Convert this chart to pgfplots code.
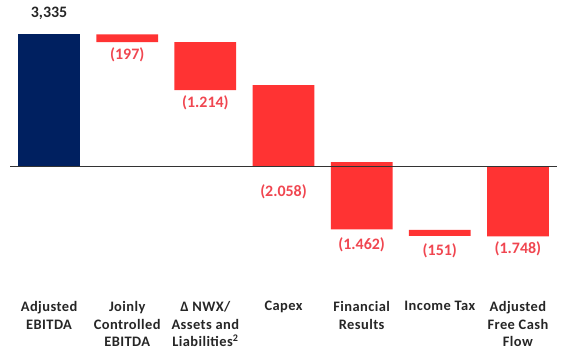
\documentclass[border=0pt]{standalone}
\usepackage{fontspec}
\setmainfont{Carlito}
\usepackage{pgfplots}
\pgfplotsset{compat=1.18}
\definecolor{navy}{HTML}{002060}
\definecolor{barred}{HTML}{FF3333}
\definecolor{labred}{RGB}{240,70,80}
\begin{document}
\begin{tikzpicture}
\pgfplotsset{common/.style={scale only axis, width=547bp, height=351bp,
  xmin=-0.5, xmax=6.5, ymin=-4624, ymax=4197, clip=false,
  axis line style={draw=none}, tick style={draw=none}, ytick=\empty}}
\begin{axis}[common, name=ax, ybar stacked, stack negative=on previous, bar width=0.79,
  xtick={0,...,6},
  xticklabels={{Adjusted\\EBITDA},{Joinly\\Controlled\\EBITDA},{Δ NWX/\\Assets and\\Liabilities\textsuperscript{2}},{Capex},{Financial\\Results},{Income Tax},{Adjusted\\Free Cash\\Flow}},
  xticklabel style={align=center, anchor=north, yshift=53bp,
    font=\bfseries\fontsize{14.5}{17.5}\selectfont\addfontfeatures{LetterSpace=3}, text=black!85}]
\addplot[draw=none, fill=none] coordinates {(0,0) (1,3138) (2,1930) (3,0) (4,125) (5,-1583) (6,0)};
\addplot[draw=none, fill=navy] coordinates {(0,3335) (1,0) (2,0) (3,0) (4,0) (5,0) (6,0)};
\addplot[draw=none, fill=barred] coordinates {(0,0) (1,197) (2,1208) (3,2058) (4,-1690) (5,-151) (6,-1745)};
\end{axis}
\begin{axis}[common, xtick=\empty]
\draw[black!80, line width=1bp] (axis cs:-0.5,0) -- (axis cs:6.5,0);
\addplot[draw=none, nodes near coords, point meta=explicit symbolic,
  nodes near coords style={anchor=center, text=black!85, font=\bfseries\fontsize{16}{18}\selectfont}]
  table[meta=lab] {
x y lab
0 3870 3,335
};
\addplot[draw=none, nodes near coords, point meta=explicit symbolic,
  nodes near coords style={anchor=center, text=labred, font=\bfseries\fontsize{16}{18}\selectfont}]
  table[meta=lab] {
x y lab
1 2815 (197)
2 1608 (1.214)
3 -628 (2.058)
4 -1960 (1.462)
5 -2111 (151)
6 -2061 (1.748)
};
\end{axis}
\pgfresetboundingbox
\path[use as bounding box] ([xshift=-10bp]ax.south west) rectangle ([xshift=10bp]ax.north east);
\end{tikzpicture}
\end{document}
